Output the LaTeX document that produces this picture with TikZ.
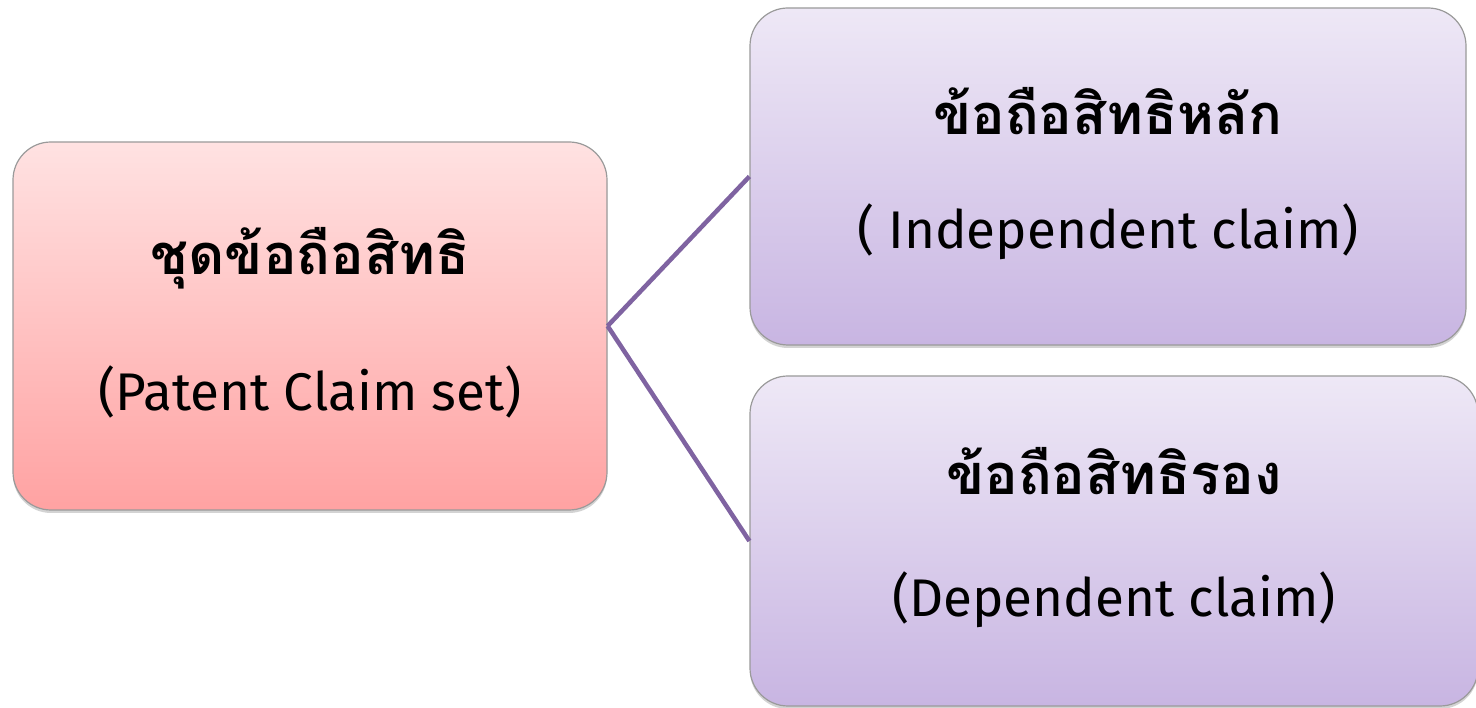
\documentclass[tikz,border=0pt]{standalone}
\usepackage{fontspec}
\newfontfamily\thaifont[Script=Thai]{Loma}
\newfontfamily\latfont{Fira Sans}
\usetikzlibrary{shadows}
\definecolor{pinktop}{HTML}{FFE2E2}
\definecolor{pinkbot}{HTML}{FFA2A2}
\definecolor{lilatop}{HTML}{EEE8F6}
\definecolor{lilabot}{HTML}{C8B5E2}
\definecolor{linkpurple}{HTML}{7F63A1}
\definecolor{boxedge}{HTML}{9A9A9A}
\tikzset{
  box/.style={rounded corners=38pt, draw=boxedge, line width=1.2pt,
    drop shadow={opacity=0.35, shadow xshift=0pt, shadow yshift=-3pt},
    align=center, inner sep=0pt},
  pinkbox/.style={box, top color=pinktop, bottom color=pinkbot},
  lilabox/.style={box, top color=lilatop, bottom color=lilabot},
  link/.style={draw=linkpurple, line width=4.5pt},
  thaitext/.style={font=\thaifont\bfseries\fontsize{56}{60}\selectfont},
  lattext/.style={font=\latfont\fontsize{53}{57}\selectfont}
}
\begin{document}
\begin{tikzpicture}[x=1pt,y=1pt]
\useasboundingbox (0,0) rectangle (1476,708);
\node[pinkbox, minimum width=594pt, minimum height=368pt] (set) at (310,382) {};
\node[lilabox, minimum width=716pt, minimum height=337pt] (ind) at (1108,531.5) {};
\node[lilabox, minimum width=728pt, minimum height=330pt] (dep) at (1114,167) {};
\node[thaitext] (setth) at (310,450) {ชุดข้อถือสิทธิ};
\node[lattext] (seten) at (310,316) {(Patent Claim set)};
\node[thaitext] (indth) at (1108,597) {ข้อถือสิทธิหลัก};
\node[lattext] (inden) at (1108,476) {( Independent claim)};
\node[thaitext] (depth) at (1114,237) {ข้อถือสิทธิรอง};
\node[lattext] (depen) at (1114,108) {(Dependent claim)};
\draw[link] (set.east) -- (ind.west);
\draw[link] (set.east) -- (dep.west);
\end{tikzpicture}
\end{document}
